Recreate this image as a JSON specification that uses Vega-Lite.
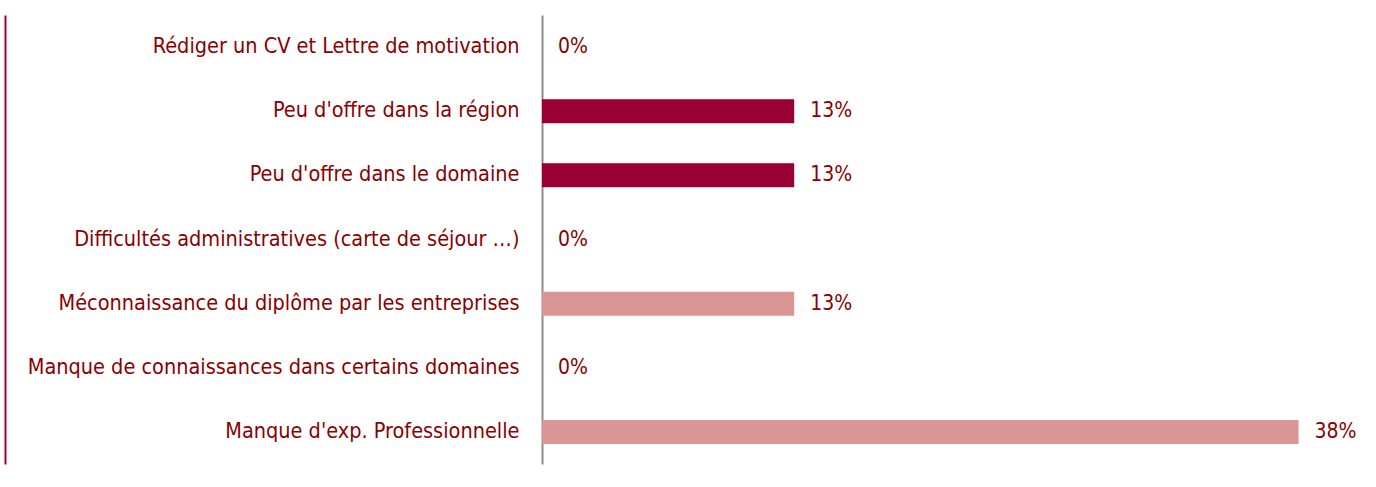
{
  "$schema": "https://vega.github.io/schema/vega-lite/v6.json",
  "autosize": {"type": "none"},
  "width": 807,
  "height": 449,
  "padding": {"left": 542, "top": 15, "right": 27, "bottom": 23},
  "background": "white",
  "config": {"view": {"stroke": null}, "font": "DejaVu Sans Condensed, Liberation Sans, sans-serif"},
  "data": {
    "values": [
      {"motif": "Rédiger un CV et Lettre de motivation", "part": 0, "groupe": "A"},
      {"motif": "Peu d'offre dans la région", "part": 0.125, "groupe": "A"},
      {"motif": "Peu d'offre dans le domaine", "part": 0.125, "groupe": "A"},
      {"motif": "Difficultés administratives (carte de séjour …)", "part": 0, "groupe": "A"},
      {"motif": "Méconnaissance du diplôme par les entreprises", "part": 0.125, "groupe": "B"},
      {"motif": "Manque de connaissances dans certains domaines", "part": 0, "groupe": "B"},
      {"motif": "Manque d'exp. Professionnelle", "part": 0.375, "groupe": "B"}
    ]
  },
  "encoding": {
    "y": {"field": "motif", "type": "nominal", "sort": null,
      "scale": {"paddingInner": 0.626, "paddingOuter": 0.313}},
    "x": {"field": "part", "type": "quantitative", "scale": {"domain": [0, 0.4], "nice": false}}
  },
  "layer": [
    {
      "mark": {"type": "bar"},
      "encoding": {
        "x": {"field": "part", "type": "quantitative", "axis": null},
        "y": {"field": "motif", "type": "nominal", "sort": null, "title": null,
          "axis": {"ticks": false, "domainColor": "#8c8c8c", "domainWidth": 2, "labelColor": "#8B0000",
            "labelFontSize": 21.5, "labelPadding": 23, "labelLimit": 600, "labelFont": "DejaVu Sans Condensed, Liberation Sans, sans-serif"}},
        "color": {"field": "groupe", "type": "nominal", "legend": null,
          "scale": {"domain": ["A", "B"], "range": ["#990033", "#DA9694"]}}
      }
    },
    {
      "mark": {"type": "text", "align": "left", "baseline": "middle", "dx": 16, "fontSize": 21, "color": "#8B0000", "font": "DejaVu Sans Condensed, Liberation Sans, sans-serif"},
      "encoding": {
        "text": {"field": "part", "type": "quantitative", "format": ".0%"},
        "y": {"field": "motif", "type": "nominal", "sort": null, "title": null,
          "axis": {"orient": "left", "labels": false, "ticks": false, "domainColor": "#A0003A", "domainWidth": 2, "offset": 537, "title": null}}
      }
    }
  ],
  "resolve": {"axis": {"y": "independent"}}
}
